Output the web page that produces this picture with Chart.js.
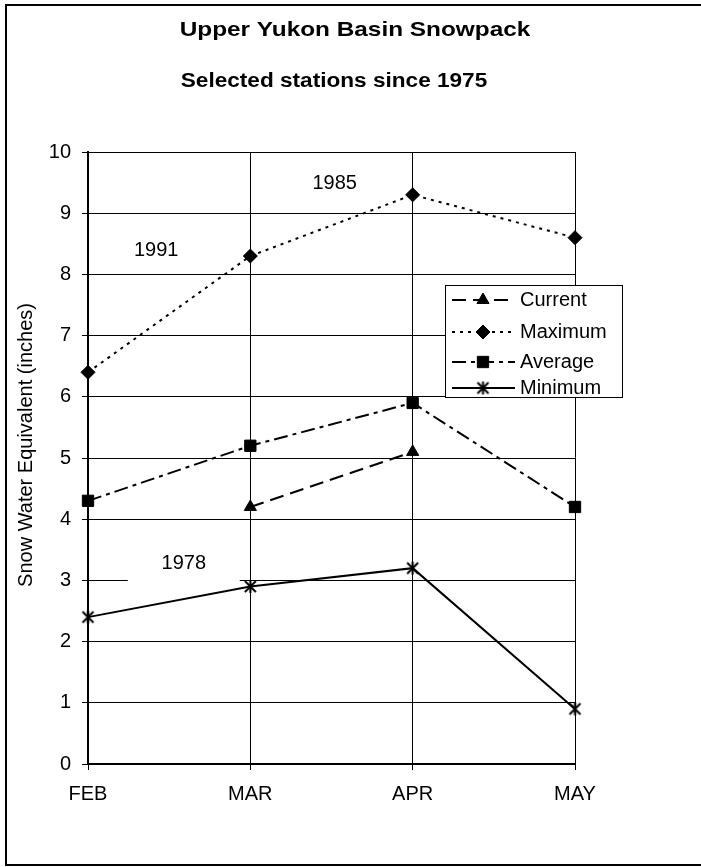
<!DOCTYPE html>
<html>
<head>
<meta charset="utf-8">
<title>Upper Yukon Basin Snowpack</title>
<script src="https://cdn.jsdelivr.net/npm/chart.js@4.4.1/dist/chart.umd.min.js"></script>
<style>
  html, body { margin: 0; padding: 0; background: #fff; }
  #wrap { width: 701px; height: 867px; position: relative; }
</style>
</head>
<body>
<div id="wrap"><canvas id="chart" width="701" height="867"></canvas></div>
<script>
// Monthly snow water equivalent, inches
const months = ['FEB', 'MAR', 'APR', 'MAY'];
const current = [null, 4.2, 5.1, null];
const maximum = [6.4, 8.3, 9.3, 8.6];
const average = [4.3, 5.2, 5.9, 4.2];
const minimum = [2.4, 2.9, 3.2, 0.9];
const yTicks = [0, 1, 2, 3, 4, 5, 6, 7, 8, 9, 10];

// Years in which the record values occurred, placed in data units
const recordYears = ['1991', '1985', '1978'];
const recordAnchors = [[0.42, 8.39], [1.52, 9.48], [0.59, 3.27]];

const FONT = '"Liberation Sans", Arial, sans-serif';

// Asterisk-style marker: an X with a vertical stroke through it
function makeStarMarker() {
  const c = document.createElement('canvas');
  c.width = 15; c.height = 15;
  const g = c.getContext('2d');
  g.strokeStyle = '#000';
  g.lineWidth = 2;
  g.beginPath();
  g.moveTo(2, 2); g.lineTo(13, 13);
  g.moveTo(13, 2); g.lineTo(2, 13);
  g.moveTo(7.5, 1); g.lineTo(7.5, 14);
  g.stroke();
  return c;
}
const starMarker = makeStarMarker();

const datasets = [
  { label: 'Current', data: current, borderDash: [14, 7], pointStyle: 'triangle', pointRadius: 7 },
  { label: 'Maximum', data: maximum, borderDash: [3, 5], pointStyle: 'rectRot', pointRadius: 7 },
  { label: 'Average', data: average, borderDash: [14, 5, 4, 5], pointStyle: 'rect', pointRadius: 8 },
  { label: 'Minimum', data: minimum, borderDash: [], pointStyle: starMarker, pointRadius: 7 }
].map(d => Object.assign({
  borderColor: '#000',
  backgroundColor: '#000',
  pointBackgroundColor: '#000',
  pointBorderColor: '#000',
  pointBorderWidth: 1,
  borderWidth: 2,
  tension: 0,
  spanGaps: false,
  fill: false
}, d));

// Text drawn with a horizontal stretch factor
function stretchedText(ctx, txt, cx, baseY, font, sx) {
  ctx.save();
  ctx.font = font;
  ctx.textAlign = 'center';
  ctx.textBaseline = 'alphabetic';
  ctx.translate(cx, baseY);
  ctx.scale(sx, 1);
  ctx.fillText(txt, 0, 0);
  ctx.restore();
}

const decorPlugin = {
  id: 'decor',
  beforeDraw(chart) {
    const ctx = chart.ctx;
    ctx.save();
    ctx.fillStyle = '#fff';
    ctx.fillRect(0, 0, chart.width, chart.height);
    // outer frame
    ctx.strokeStyle = '#000';
    ctx.lineWidth = 2;
    ctx.strokeRect(6, 5, chart.width + 10, 860);
    ctx.restore();
  },
  beforeDatasetsDraw(chart) {
    const ctx = chart.ctx;
    const xs = chart.scales.x, ys = chart.scales.y;
    ctx.save();
    ctx.font = '20px ' + FONT;
    ctx.textAlign = 'center';
    ctx.textBaseline = 'middle';
    recordYears.forEach((txt, i) => {
      const px = xs.getPixelForValue(recordAnchors[i][0]);
      const py = ys.getPixelForValue(recordAnchors[i][1]);
      ctx.fillStyle = '#fff';
      ctx.fillRect(px - 56, py - 18, 112, 38);
      ctx.fillStyle = '#000';
      ctx.fillText(txt, px, py);
    });
    ctx.restore();
  },
  afterDraw(chart) {
    const ctx = chart.ctx;
    const area = chart.chartArea;
    ctx.save();
    ctx.fillStyle = '#000';
    // titles
    stretchedText(ctx, 'Upper Yukon Basin Snowpack', 355, 36, 'bold 21px ' + FONT, 1.16);
    stretchedText(ctx, 'Selected stations since 1975', 334, 87, 'bold 20px ' + FONT, 1.13);
    // y axis title
    ctx.save();
    ctx.translate(26, 445);
    ctx.rotate(-Math.PI / 2);
    ctx.font = '20px ' + FONT;
    ctx.textAlign = 'center';
    ctx.textBaseline = 'middle';
    ctx.fillText('Snow Water Equivalent (inches)', 0, 0);
    ctx.restore();

    // legend box
    const lx = area.right - 130, ly = area.top + 133, lw = 177, lh = 112;
    ctx.fillStyle = '#fff';
    ctx.fillRect(lx, ly, lw, lh);
    ctx.strokeStyle = '#000';
    ctx.lineWidth = 1;
    ctx.strokeRect(lx + 0.5, ly + 0.5, lw, lh);
    const rowY = [15, 47, 77, 103];
    chart.data.datasets.forEach((ds, i) => {
      const y = ly + rowY[i];
      ctx.save();
      ctx.strokeStyle = '#000';
      ctx.lineWidth = 2;
      ctx.setLineDash(ds.borderDash);
      ctx.beginPath();
      ctx.moveTo(lx + 7, y);
      ctx.lineTo(lx + 70, y);
      ctx.stroke();
      ctx.restore();
      ctx.fillStyle = '#000';
      ctx.strokeStyle = '#000';
      ctx.lineWidth = 1;
      Chart.helpers.drawPoint(ctx, { pointStyle: ds.pointStyle, radius: ds.pointRadius, rotation: 0, borderWidth: 1 }, lx + 38, y);
      ctx.fillStyle = '#000';
      ctx.font = '20px ' + FONT;
      ctx.textAlign = 'left';
      ctx.textBaseline = 'middle';
      ctx.fillText(ds.label, lx + 75, y);
    });
    ctx.restore();
  }
};

new Chart(document.getElementById('chart'), {
  type: 'line',
  data: { labels: months, datasets },
  options: {
    responsive: false,
    animation: false,
    devicePixelRatio: 1,
    layout: { padding: { left: 0, right: 126, top: 152, bottom: 63 } },
    plugins: { legend: { display: false }, tooltip: { enabled: false }, title: { display: false } },
    scales: {
      x: {
        type: 'category',
        offset: false,
        grid: { color: '#000', lineWidth: 1, tickLength: 6, drawTicks: true },
        border: { display: true, color: '#000', width: 2 },
        ticks: { color: '#000', font: { family: FONT, size: 20 }, padding: 12, maxRotation: 0 },
        afterFit(s) { s.height = 40; }
      },
      y: {
        min: 0, max: 10,
        afterBuildTicks(s) { s.ticks = yTicks.map(v => ({ value: v })); },
        grid: { color: '#000', lineWidth: 1, tickLength: 6 },
        border: { display: true, color: '#000', width: 2 },
        ticks: { color: '#000', font: { family: FONT, size: 20 }, padding: 11 },
        afterFit(s) { s.width = 88; }
      }
    }
  },
  plugins: [decorPlugin]
});
</script>
</body>
</html>
